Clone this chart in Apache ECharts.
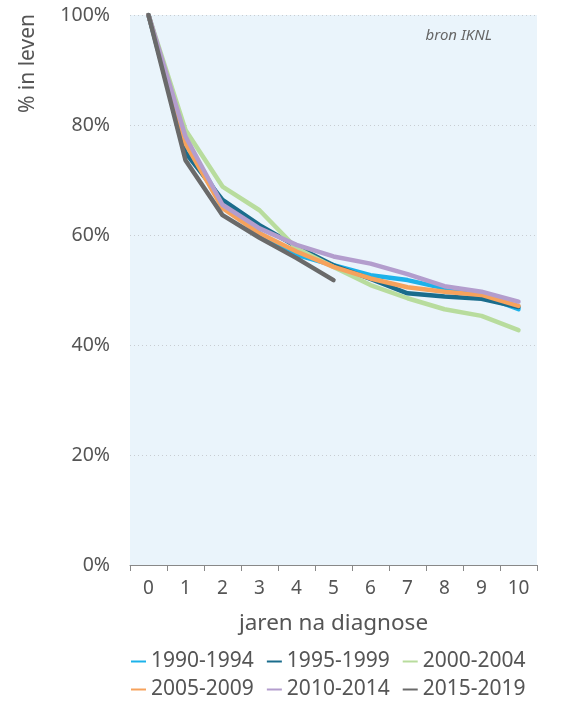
<!DOCTYPE html>
<html>
<head>
<meta charset="utf-8">
<script src="https://cdn.jsdelivr.net/npm/echarts@6/dist/echarts.min.js"></script>
<style>
html,body{margin:0;padding:0;background:#fff;}
#c{width:578px;height:701px;}
</style>
</head>
<body>
<div id="c"></div>
<script>
const years = ['0','1','2','3','4','5','6','7','8','9','10'];
const yTicks = [0, 20, 40, 60, 80, 100];
const s1990 = [100, 77.0, 65.8, 60.3, 56.4, 54.5, 52.7, 51.8, 50.3, 49.0, 46.5];
const s1995 = [100, 75.0, 66.4, 61.8, 57.9, 54.5, 52.0, 49.4, 48.8, 48.4, 46.9];
const s2000 = [100, 79.1, 68.8, 64.5, 57.6, 54.2, 50.9, 48.5, 46.5, 45.3, 42.7];
const s2005 = [100, 76.6, 64.9, 60.3, 57.0, 54.2, 52.1, 50.5, 49.7, 49.1, 47.1];
const s2010 = [100, 77.9, 65.5, 61.2, 58.2, 56.1, 54.8, 52.9, 50.7, 49.7, 47.9];
const s2015 = [100, 73.6, 63.6, 59.5, 55.8, 51.8];
const seriesNames = ['1990-1994','1995-1999','2000-2004','2005-2009','2010-2014','2015-2019'];
const seriesData = [s1990, s1995, s2000, s2005, s2010, s2015];
const colors = ['#1cb2ea','#1a6c8c','#b8dc9d','#f6a25c','#b39dcd','#6a6a6a'];

const FONT = 'Noto Sans';
const legendText = {fontFamily: FONT, fontSize: 21, color: '#555'};
const legendBase = {
  left: 126, width: 450,
  itemWidth: 15, itemHeight: 2, itemGap: 13,
  icon: 'rect', textStyle: legendText
};
const chart = echarts.init(document.getElementById('c'));
chart.setOption({
  animation: false,
  color: colors,
  textStyle: {fontFamily: FONT},
  title: {
    text: 'bron IKNL',
    right: 81, top: 23,
    textStyle: {fontFamily: FONT, fontStyle: 'italic', fontWeight: 'normal', fontSize: 15, color: '#666'}
  },
  grid: {left: 130, right: 41, top: 15, bottom: 136, show: true, backgroundColor: '#eaf4fb', borderWidth: 0},
  legend: [
    Object.assign({}, legendBase, {top: 646, data: seriesNames.slice(0, 3)}),
    Object.assign({}, legendBase, {top: 674, data: seriesNames.slice(3)})
  ],
  xAxis: {
    type: 'category',
    data: years,
    boundaryGap: true,
    name: 'jaren na diagnose',
    nameLocation: 'middle',
    nameGap: 47,
    nameTextStyle: {fontFamily: FONT, fontSize: 22.5, color: '#555'},
    axisLine: {lineStyle: {color: '#888', width: 1}},
    axisTick: {show: true, length: 6, lineStyle: {color: '#888'}},
    axisLabel: {fontFamily: FONT, fontSize: 19, color: '#555', margin: 14}
  },
  yAxis: {
    type: 'value',
    min: yTicks[0], max: yTicks[yTicks.length-1], interval: 20,
    axisLine: {show: false},
    axisTick: {show: false},
    axisLabel: {fontFamily: FONT, fontSize: 19.5, color: '#555', margin: 20, formatter: v => v + '%'},
    splitLine: {show: true, lineStyle: {color: '#c8cdd2', type: [1,3], width: 1}}
  },
  graphic: [{
    type: 'text',
    left: 18, top: 14,
    rotation: Math.PI/2,
    style: {text: '% in leven', font: '21px "Noto Sans"', fill: '#555'}
  }],
  series: seriesData.map((d, i) => ({
    name: seriesNames[i],
    type: 'line',
    data: d,
    symbol: 'none',
    lineStyle: {width: 4.5, color: colors[i], cap: 'round', join: 'round'},
    itemStyle: {color: colors[i]},
    z: 2 + i
  }))
});
</script>
</body>
</html>
